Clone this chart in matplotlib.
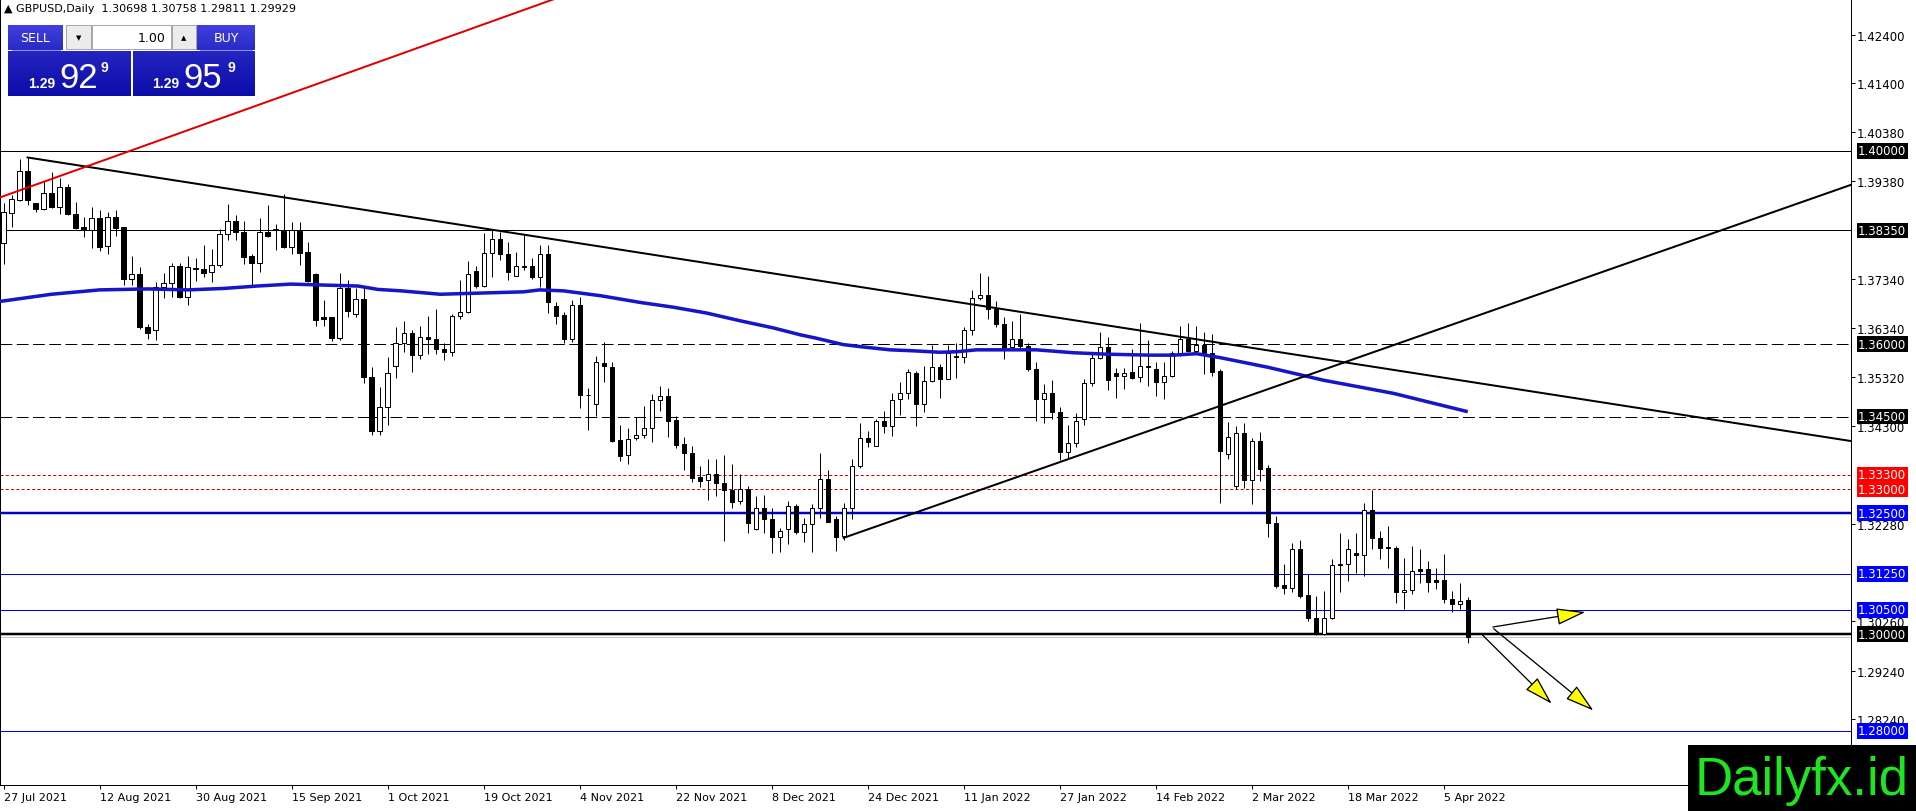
import matplotlib
matplotlib.use('Agg')
import matplotlib.pyplot as plt
from matplotlib.patches import Rectangle
from matplotlib.colors import LinearSegmentedColormap
import numpy as np

plt.rcParams['font.family'] = ['DejaVu Sans']
plt.rcParams['lines.scale_dashes'] = False

PX = 0.72  # one pixel in points (dpi 100)

# GBPUSD daily candles, bar 0 = 27 Jul 2021
opens = [
    1.3810, 1.3871, 1.3897, 1.3958, 1.3891, 1.3879, 1.3912, 1.3884, 1.3925, 1.3870,
    1.3842, 1.3835, 1.3860, 1.3803, 1.3862, 1.3842, 1.3735, 1.3745, 1.3635, 1.3628,
    1.3718, 1.3727, 1.3761, 1.3697, 1.3757, 1.3755, 1.3750, 1.3763, 1.3827, 1.3854,
    1.3831, 1.3782, 1.3767, 1.3831, 1.3839, 1.3836, 1.3801, 1.3836, 1.3790, 1.3745,
    1.3655, 1.3655, 1.3612, 1.3716, 1.3662, 1.3693, 1.3532, 1.3420, 1.3469, 1.3554,
    1.3602, 1.3623, 1.3577, 1.3614, 1.3610, 1.3590, 1.3583, 1.3657, 1.3667, 1.3751,
    1.3720, 1.3788, 1.3818, 1.3787, 1.3741, 1.3760, 1.3761, 1.3739, 1.3786, 1.3679,
    1.3660, 1.3610, 1.3681, 1.3494, 1.3475, 1.3561, 1.3553, 1.3402, 1.3370, 1.3405,
    1.3412, 1.3426, 1.3485, 1.3492, 1.3443, 1.3393, 1.3375, 1.3324, 1.3319, 1.3332,
    1.3312, 1.3298, 1.3276, 1.3300, 1.3217, 1.3260, 1.3239, 1.3200, 1.3217, 1.3264,
    1.3211, 1.3227, 1.3260, 1.3321, 1.3238, 1.3203, 1.3260, 1.3348, 1.3405, 1.3390,
    1.3440, 1.3430, 1.3487, 1.3499, 1.3540, 1.3475, 1.3523, 1.3553, 1.3528, 1.3576,
    1.3573, 1.3628, 1.3695, 1.3701, 1.3672, 1.3641, 1.3593, 1.3610, 1.3595, 1.3549,
    1.3486, 1.3498, 1.3460, 1.3377, 1.3395, 1.3444, 1.3520, 1.3572, 1.3594, 1.3541,
    1.3533, 1.3542, 1.3531, 1.3555, 1.3549, 1.3522, 1.3534, 1.3581, 1.3610, 1.3585,
    1.3598, 1.3582, 1.3545, 1.3373, 1.3306, 1.3416, 1.3318, 1.3400, 1.3343, 1.3230,
    1.3101, 1.3095, 1.3176, 1.3080, 1.3034, 1.3000, 1.3034, 1.3144, 1.3144, 1.3168,
    1.3163, 1.3256, 1.3199, 1.3181, 1.3179, 1.3087, 1.3091, 1.3134, 1.3134, 1.3112,
    1.3112, 1.3073, 1.3062, 1.30698,
]
highs = [
    1.3891, 1.3909, 1.3982, 1.3986, 1.3891, 1.3937, 1.3956, 1.3944, 1.3932, 1.3894,
    1.3863, 1.3884, 1.3877, 1.3874, 1.3877, 1.3842, 1.3782, 1.3759, 1.3642, 1.3729,
    1.3747, 1.3768, 1.3768, 1.3782, 1.3777, 1.3805, 1.3796, 1.3837, 1.3889, 1.3867,
    1.3854, 1.3787, 1.3860, 1.3887, 1.3849, 1.3911, 1.3853, 1.3853, 1.3812, 1.3748,
    1.3691, 1.3655, 1.3748, 1.3733, 1.3715, 1.3716, 1.3552, 1.3512, 1.3573, 1.3636,
    1.3647, 1.3629, 1.3638, 1.3657, 1.3672, 1.3602, 1.3662, 1.3732, 1.3771, 1.3762,
    1.3830, 1.3835, 1.3832, 1.3812, 1.3790, 1.3825, 1.3779, 1.3804, 1.3804, 1.3688,
    1.3667, 1.3691, 1.3697, 1.3508, 1.3575, 1.3604, 1.3563, 1.3433, 1.3426, 1.3450,
    1.3471, 1.3497, 1.3514, 1.3509, 1.3452, 1.3407, 1.3388, 1.3348, 1.3362, 1.3362,
    1.3370, 1.3352, 1.3332, 1.3307, 1.3286, 1.3287, 1.3260, 1.3220, 1.3276, 1.3269,
    1.3241, 1.3269, 1.3374, 1.3340, 1.3245, 1.3272, 1.3362, 1.3437, 1.3421, 1.3445,
    1.3462, 1.3499, 1.3521, 1.3549, 1.3545, 1.3555, 1.3597, 1.3558, 1.3597, 1.3602,
    1.3635, 1.3712, 1.3746, 1.3740, 1.3690, 1.3655, 1.3648, 1.3662, 1.3602, 1.3563,
    1.3518, 1.3525, 1.3469, 1.3432, 1.3458, 1.3527, 1.3579, 1.3625, 1.3614, 1.3551,
    1.3551, 1.3589, 1.3643, 1.3609, 1.3562, 1.3562, 1.3586, 1.3638, 1.3643, 1.3638,
    1.3624, 1.3620, 1.3548, 1.3438, 1.3431, 1.3436, 1.3405, 1.3417, 1.3350, 1.3244,
    1.3144, 1.3189, 1.3194, 1.3125, 1.3079, 1.3089, 1.3155, 1.3209, 1.3197, 1.3208,
    1.3271, 1.3297, 1.3213, 1.3223, 1.3182, 1.3158, 1.3182, 1.3175, 1.3151, 1.3137,
    1.3165, 1.3089, 1.3105, 1.30758,
]
lows = [
    1.3765, 1.3842, 1.3895, 1.3888, 1.3874, 1.3877, 1.3881, 1.3870, 1.3867, 1.3839,
    1.3822, 1.3799, 1.3793, 1.3786, 1.3824, 1.3723, 1.3723, 1.3631, 1.3611, 1.3609,
    1.3695, 1.3697, 1.3695, 1.3680, 1.3731, 1.3739, 1.3729, 1.3760, 1.3816, 1.3816,
    1.3765, 1.3722, 1.3750, 1.3822, 1.3794, 1.3798, 1.3787, 1.3763, 1.3729, 1.3637,
    1.3637, 1.3607, 1.3608, 1.3656, 1.3656, 1.3519, 1.3412, 1.3412, 1.3433, 1.3530,
    1.3583, 1.3542, 1.3568, 1.3580, 1.3580, 1.3566, 1.3575, 1.3651, 1.3665, 1.3716,
    1.3718, 1.3738, 1.3773, 1.3732, 1.3740, 1.3754, 1.3735, 1.3718, 1.3665, 1.3642,
    1.3602, 1.3605, 1.3468, 1.3423, 1.3451, 1.3521, 1.3398, 1.3357, 1.3352, 1.3402,
    1.3405, 1.3397, 1.3462, 1.3407, 1.3384, 1.3340, 1.3315, 1.3305, 1.3278, 1.3286,
    1.3193, 1.3260, 1.3269, 1.3208, 1.3215, 1.3208, 1.3168, 1.3170, 1.3186, 1.3206,
    1.3191, 1.3170, 1.3241, 1.3231, 1.3172, 1.3195, 1.3239, 1.3343, 1.3386, 1.3388,
    1.3416, 1.3409, 1.3453, 1.3487, 1.3430, 1.3460, 1.3521, 1.3489, 1.3527, 1.3530,
    1.3561, 1.3619, 1.3692, 1.3651, 1.3636, 1.3570, 1.3591, 1.3591, 1.3545, 1.3441,
    1.3436, 1.3444, 1.3360, 1.3363, 1.3386, 1.3432, 1.3513, 1.3570, 1.3505, 1.3489,
    1.3507, 1.3527, 1.3522, 1.3513, 1.3493, 1.3486, 1.3531, 1.3576, 1.3584, 1.3579,
    1.3538, 1.3534, 1.3272, 1.3363, 1.3300, 1.3302, 1.3268, 1.3316, 1.3201, 1.3096,
    1.3082, 1.3087, 1.3075, 1.3027, 1.2998, 1.2998, 1.3031, 1.3086, 1.3110, 1.3127,
    1.3120, 1.3175, 1.3156, 1.3137, 1.3065, 1.3051, 1.3082, 1.3105, 1.3086, 1.3093,
    1.3064, 1.3045, 1.3051, 1.29811,
]
closes = [
    1.3874, 1.3900, 1.3958, 1.3897, 1.3880, 1.3912, 1.3884, 1.3925, 1.3869, 1.3841,
    1.3835, 1.3860, 1.3801, 1.3863, 1.3841, 1.3735, 1.3745, 1.3635, 1.3623, 1.3718,
    1.3727, 1.3761, 1.3697, 1.3759, 1.3756, 1.3748, 1.3763, 1.3827, 1.3854, 1.3831,
    1.3781, 1.3767, 1.3831, 1.3823, 1.3836, 1.3801, 1.3836, 1.3789, 1.3731, 1.3650,
    1.3651, 1.3612, 1.3716, 1.3668, 1.3693, 1.3532, 1.3420, 1.3469, 1.3540, 1.3602,
    1.3623, 1.3577, 1.3614, 1.3610, 1.3590, 1.3583, 1.3658, 1.3667, 1.3744, 1.3720,
    1.3788, 1.3818, 1.3787, 1.3749, 1.3761, 1.3761, 1.3739, 1.3786, 1.3686, 1.3658,
    1.3610, 1.3681, 1.3494, 1.3495, 1.3562, 1.3554, 1.3400, 1.3368, 1.3404, 1.3411,
    1.3426, 1.3485, 1.3492, 1.3440, 1.3392, 1.3375, 1.3322, 1.3317, 1.3331, 1.3312,
    1.3298, 1.3274, 1.3300, 1.3229, 1.3260, 1.3239, 1.3200, 1.3213, 1.3265, 1.3211,
    1.3227, 1.3260, 1.3321, 1.3232, 1.3201, 1.3260, 1.3348, 1.3405, 1.3397, 1.3440,
    1.3430, 1.3485, 1.3499, 1.3542, 1.3475, 1.3523, 1.3553, 1.3528, 1.3582, 1.3573,
    1.3628, 1.3695, 1.3701, 1.3672, 1.3641, 1.3591, 1.3610, 1.3595, 1.3548, 1.3486,
    1.3498, 1.3460, 1.3377, 1.3396, 1.3441, 1.3520, 1.3572, 1.3594, 1.3525, 1.3533,
    1.3541, 1.3530, 1.3554, 1.3553, 1.3522, 1.3534, 1.3581, 1.3610, 1.3586, 1.3598,
    1.3577, 1.3542, 1.3378, 1.3407, 1.3416, 1.3318, 1.3400, 1.3342, 1.3229, 1.3100,
    1.3095, 1.3176, 1.3079, 1.3034, 1.3000, 1.3034, 1.3142, 1.3142, 1.3176, 1.3163,
    1.3256, 1.3199, 1.3179, 1.3178, 1.3087, 1.3091, 1.3130, 1.3130, 1.3108, 1.3108,
    1.3072, 1.3062, 1.3069, 1.29929,
]

# moving average (bar index, price)
ma_bars = [-0.5, 6, 12, 18, 23, 27.5, 31.7, 35.9, 40.1, 44.3, 46.8, 49.7, 54.6, 58.7,
           65, 67, 70, 74.6, 79.6, 83.8, 87.9, 92.1, 96.3, 99.6, 101.6, 104.9, 107.4,
           110.8, 113.7, 117, 119.1, 121.6, 125.8, 129.1, 133.7, 137.9, 143.3, 146.2,
           149.1, 152, 158, 165, 173.7, 183]
ma_vals = [1.3688, 1.3703, 1.3712, 1.3714, 1.3712, 1.3715, 1.3720, 1.3724, 1.3722,
           1.3720, 1.3713, 1.3710, 1.3703, 1.3705, 1.3708, 1.3712, 1.3710, 1.3700,
           1.3686, 1.3676, 1.3664, 1.3648, 1.3633, 1.3619, 1.3612, 1.3599, 1.3594,
           1.3588, 1.3586, 1.3583, 1.3584, 1.3588, 1.3588, 1.3588, 1.3582, 1.3579,
           1.3577, 1.3577, 1.3580, 1.3572, 1.3552, 1.3525, 1.3498, 1.3460]

date_bars = [0, 12, 24, 36, 48, 60, 72, 84, 96, 108, 120, 132, 144, 156, 168, 180]
date_labels = ['27 Jul 2021', '12 Aug 2021', '30 Aug 2021', '15 Sep 2021', '1 Oct 2021',
               '19 Oct 2021', '4 Nov 2021', '22 Nov 2021', '8 Dec 2021', '24 Dec 2021',
               '11 Jan 2022', '27 Jan 2022', '14 Feb 2022', '2 Mar 2022', '18 Mar 2022',
               '5 Apr 2022']
price_ticks = [1.42400, 1.41400, 1.40380, 1.39380, 1.37340, 1.36340, 1.35320, 1.34300,
               1.32280, 1.30260, 1.29240, 1.28240]

levels = [1.40000, 1.38350, 1.36000, 1.34500, 1.33300, 1.33000, 1.32500, 1.31250,
          1.30500, 1.30000, 1.28000]
level_colors = ['black', 'black', 'black', 'black', '#d40000', '#d40000', '#0000c8',
                '#0000e6', '#0000e6', 'black', '#0000e6']
level_box = ['black', 'black', 'black', 'black', '#ff0000', '#ff0000', '#0000ff',
             '#0000ff', '#0000ff', 'black', '#0000ff']
level_style = ['-', '-', 'dash', 'dash', 'dot', 'dot', '-', '-', '-', '-', '-']
level_width = [1, 1, 1, 1, 1, 1, 2.5, 1, 1, 2.5, 1]
bid = 1.29929

trend_down = ([3, 231], [1.3986, 1.3399])
trend_up = ([105, 231], [1.3199, 1.3930])
trend_red = ([-1, 80], [1.3900, 1.4380])

arrow_from = [(186.15, 1.30145), (184.8, 1.29986), (186.25, 1.30108)]
arrow_to = [(197.7, 1.30455), (193.5, 1.28558), (198.7, 1.28418)]

o = np.array(opens)
h = np.array(highs)
l = np.array(lows)
c = np.array(closes)
x = np.arange(len(o))
up = c > o

fig = plt.figure(figsize=(19.16, 8.12), dpi=100)
ax = fig.add_axes([0, 26 / 812, 1851 / 1916, 786 / 812])
ax.set_xlim(-0.44, 230.9)
ax.set_ylim(1.26876, 1.43139)

# horizontal levels
for lv, col, st, w in zip(levels, level_colors, level_style, level_width):
    if st == 'dash':
        ls = (0, (8.5, 3.2))
    elif st == 'dot':
        ls = (0, (2.2, 1.6))
    else:
        ls = '-'
    ax.axhline(lv, color=col, lw=w * PX, ls=ls, zorder=2)
ax.axhline(bid, color='#c8c8c8', lw=PX, zorder=1.5)

# candles
ax.vlines(x, l, h, color='black', lw=PX, zorder=3)
body = np.maximum(np.abs(c - o), 0.00002)
ax.bar(x[up], body[up], bottom=o[up], width=0.52, color='white',
       edgecolor='black', lw=PX, zorder=4)
ax.bar(x[~up], body[~up], bottom=np.minimum(o, c)[~up], width=0.52, color='black',
       edgecolor='black', lw=PX, zorder=4)

# moving average
ax.plot(ma_bars, ma_vals, color='#1616c8', lw=3.5 * PX, zorder=5,
        solid_capstyle='butt')

# trend lines
ax.plot(*trend_down, color='black', lw=2 * PX, zorder=6)
ax.plot(*trend_up, color='black', lw=2 * PX, zorder=6)
ax.plot(*trend_red, color='#e00000', lw=2 * PX, zorder=6)

for a, b in zip(arrow_from, arrow_to):
    ax.annotate('', xy=b, xytext=a,
                arrowprops=dict(arrowstyle='-|>,head_length=1.3,head_width=0.38',
                                fc='#ffff00', ec='black', lw=1.3 * PX,
                                shrinkA=0, shrinkB=0, mutation_scale=14),
                zorder=7)

# axes styling
for s in ax.spines.values():
    s.set_color('black')
    s.set_linewidth(PX)
ax.yaxis.tick_right()
ax.set_yticks(price_ticks)
ax.set_yticklabels(['%.5f' % v for v in price_ticks])
ax.tick_params(axis='y', length=4 * PX, width=PX, pad=2 * PX, labelsize=8.5)
ax.set_xticks(date_bars)
ax.set_xticklabels(date_labels)
ax.tick_params(axis='x', length=4 * PX, width=PX, pad=3 * PX, labelsize=8)
for t in ax.get_xticklabels():
    t.set_ha('left')

# price boxes on the right scale
for lv, col in zip(levels, level_box):
    ax.annotate('%.5f' % lv, xy=(1, lv), xycoords=ax.get_yaxis_transform(),
                xytext=(7, 0), textcoords='offset pixels', ha='left', va='center',
                fontsize=8.5, color='white', annotation_clip=False, zorder=20,
                bbox=dict(boxstyle='square,pad=0.12', fc=col, ec='none'))

# overlay in pixel coordinates for the trade panel and logo
ov = fig.add_axes([0, 0, 1, 1], zorder=10)
ov.patch.set_alpha(0)
ov.axis('off')


def grad_box(x0, y0, x1, y1, top, bot):
    cmap = LinearSegmentedColormap.from_list('g', [top, bot])
    ov.imshow(np.linspace(0, 1, 40).reshape(-1, 1), cmap=cmap, aspect='auto',
              extent=(x0, x1, y1, y0), origin='upper', interpolation='bilinear')


grad_box(8, 26, 63, 51, '#4040e0', '#2a2ac4')
grad_box(197, 26, 255, 51, '#4040e0', '#2a2ac4')
grad_box(8, 52, 131, 97, '#2424c0', '#0c0ca8')
grad_box(133, 52, 255, 97, '#2424c0', '#0c0ca8')
ov.plot([12, 60], [50.5, 50.5], color='#9090f0', lw=PX)
ov.plot([200, 252], [50.5, 50.5], color='#9090f0', lw=PX)
ov.add_patch(Rectangle((66, 26), 25, 24, fc='#ececec', ec='#a8a8a8', lw=PX))
ov.add_patch(Rectangle((92, 26), 79, 24, fc='white', ec='#a8a8a8', lw=PX))
ov.add_patch(Rectangle((172, 26), 24, 24, fc='#ececec', ec='#a8a8a8', lw=PX))
ov.text(78.5, 38, '\u25bc', fontsize=5, ha='center', va='center', color='black')
ov.text(184, 38, '\u25b2', fontsize=5, ha='center', va='center', color='black')
ov.text(166, 38, '1.00', fontsize=9, ha='right', va='center', color='black')
ov.text(35, 39, 'SELL', fontsize=9, ha='center', va='center', color='white')
ov.text(226, 39, 'BUY', fontsize=9, ha='center', va='center', color='white')
ov.text(28, 88, '1.29', fontsize=10, fontweight='bold', color='white',
        family='Liberation Sans', va='baseline')
ov.text(59, 88, '92', fontsize=25, color='white', family='Liberation Sans',
        va='baseline')
ov.text(101, 72, '9', fontsize=10, fontweight='bold', color='white',
        family='Liberation Sans', va='baseline')
ov.text(152, 88, '1.29', fontsize=10, fontweight='bold', color='white',
        family='Liberation Sans', va='baseline')
ov.text(183, 88, '95', fontsize=25, color='white', family='Liberation Sans',
        va='baseline')
ov.text(228, 72, '9', fontsize=10, fontweight='bold', color='white',
        family='Liberation Sans', va='baseline')
ov.text(4, 9, '\u25b2 GBPUSD,Daily  1.30698 1.30758 1.29811 1.29929', fontsize=8,
        ha='left', va='center', color='black')

ov.add_patch(Rectangle((1688, 746), 228, 66, fc='black', ec='none'))
ov.text(1802, 781, 'Dailyfx.id', fontsize=38, color='#1ee61e',
        family='Liberation Sans', ha='center', va='center')
ov.set_xlim(0, 1916)
ov.set_ylim(812, 0)

fig.savefig('out.png', dpi=100, facecolor='white')
